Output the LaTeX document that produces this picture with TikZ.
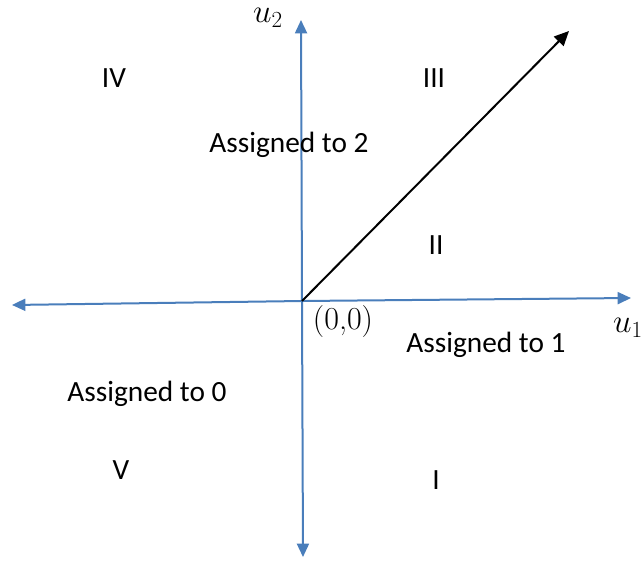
\documentclass[tikz,border=0pt]{standalone}
\usepackage{fontspec}
\setmainfont{Carlito}
\usetikzlibrary{arrows.meta}
\definecolor{axisblue}{HTML}{4A7EBB}
\begin{document}
\begin{tikzpicture}[x=0.75pt,y=-0.75pt,
  axis/.style={draw=axisblue,line width=1.5pt,-{Triangle[length=10pt,width=9pt]}},
  vec/.style={draw=black,line width=1.5pt,-{Triangle[length=11pt,width=10pt]}},
  lbl/.style={font=\fontsize{22}{26}\selectfont,inner sep=0pt},
  mth/.style={font=\fontsize{24}{28}\selectfont,inner sep=0pt}]
\useasboundingbox (0,0) rectangle (644,565);
\coordinate (O) at (302,301);
\coordinate (top) at (301,20);
\coordinate (bot) at (303,557);
\coordinate (lft) at (12,305);
\coordinate (rgt) at (631,298);
\coordinate (tip) at (569,31);
\draw[axis] (O) -- (top);
\draw[axis] (O) -- (bot);
\draw[axis] (O) -- (lft);
\draw[axis] (O) -- (rgt);
\draw[vec] (O) -- (tip);
\node[mth] (u2) at (268,18) {$u_2$};
\node[mth] (u1) at (628,328) {$u_1$};
\node[font=\fontsize{24}{28}\selectfont,inner sep=0pt] (orig) at (343,322) {\fontspec{Latin Modern Roman}(0,0)};
\node[lbl] (r4) at (114,78) {IV};
\node[lbl] (r3) at (434,78) {III};
\node[lbl] (r2) at (436,245) {II};
\node[lbl] (r1) at (436,480) {I};
\node[lbl] (r5) at (121,470) {V};
\node[lbl] (a2) at (289,145) {Assigned to 2};
\node[lbl] (a1) at (486,345) {Assigned to 1};
\node[lbl] (a0) at (147,394) {Assigned to 0};
\end{tikzpicture}
\end{document}
